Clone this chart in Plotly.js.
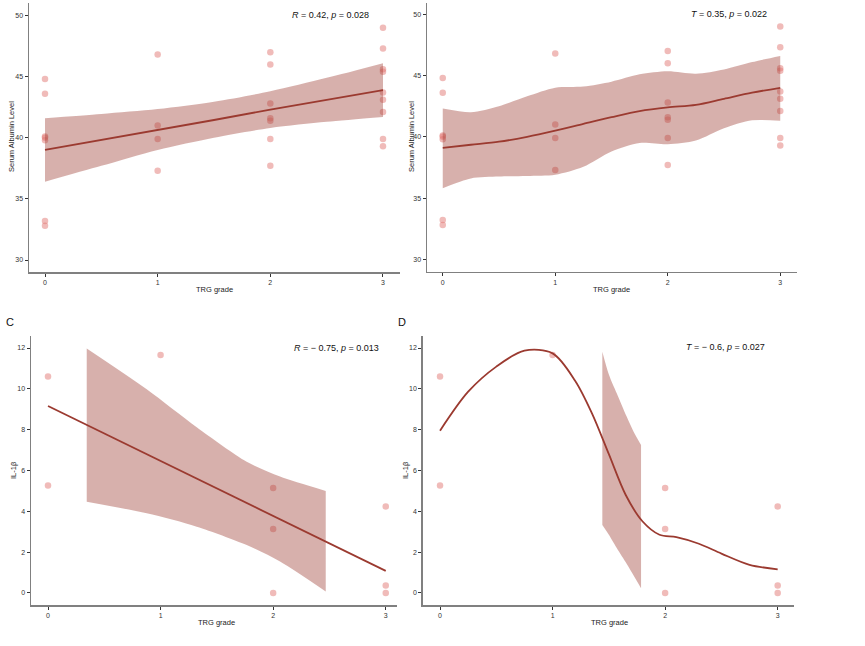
<!DOCTYPE html>
<html>
<head>
<meta charset="utf-8">
<script src="https://cdn.plot.ly/plotly-3.0.1.min.js"></script>
<style>html,body{margin:0;padding:0;background:#fff;}#chart{width:865px;height:646px;}</style>
</head>
<body>
<div id="chart"></div>
<script>
// ---------- data ----------
const trgAlb = [0,0,0,0,0,0,0, 1,1,1,1, 2,2,2,2,2,2,2, 3,3,3,3,3,3,3,3,3];
const albumin = [44.8,43.6,40.1,40.0,39.8,33.2,32.8, 46.8,41.0,39.9,37.3, 47.0,46.0,42.8,41.6,41.4,39.9,37.7, 49.0,47.3,45.6,45.4,43.7,43.1,42.1,39.9,39.3];

const trgIL = [0,0,1,2,2,2,3,3,3];
const il1b = [10.6,5.27,11.66,5.14,3.13,0,4.24,0.36,0];

// Panel A: linear fit and 95% CI
const fitAX = [0,0.5,1,1.5,2,2.5,3];
const fitAY = [39.0,39.8,40.6,41.45,42.3,43.1,43.9];
const ciAUp = [41.6,41.95,42.35,42.95,43.8,44.9,46.1];
const ciALo = [36.4,37.7,39.0,40.0,40.8,41.3,41.7];

// Panel B: smooth fit and CI
const fitBX = [0,0.25,0.5,0.75,1,1.25,1.5,1.75,2,2.25,2.5,2.75,3];
const fitBY = [39.1,39.35,39.6,40.0,40.5,41.05,41.6,42.1,42.4,42.6,43.1,43.6,44.0];
const ciBUp = [42.3,42.0,42.5,43.3,44.0,44.1,44.5,45.1,45.35,45.15,45.5,46.1,46.6];
const ciBLo = [35.8,36.6,36.75,36.8,36.9,37.55,38.8,39.5,39.4,39.7,40.7,41.35,41.3];

// Panel C: linear fit and CI
const fitCX = [0,3];
const fitCY = [9.16,1.08];
const ciCX = [0.344,0.877,1.321,1.765,2.061,2.467];
const ciCUp = [11.98,9.98,8.12,6.43,5.70,5.0];
const ciCLo = [4.47,3.90,3.25,2.35,1.54,0.07];

// Panel D: smooth fit and CI
const fitDX = [0,0.25,0.5,0.75,1,1.2,1.35,1.5,1.65,1.8,1.95,2.1,2.3,2.5,2.75,3];
const fitDY = [7.95,9.86,11.09,11.87,11.74,10.4,8.8,6.8,4.8,3.5,2.85,2.73,2.41,1.93,1.38,1.16];
const ciDX = [1.442,1.5,1.57,1.658,1.72,1.786];
const ciDUp = [11.82,10.7,9.78,8.64,7.9,7.25];
const ciDLo = [3.33,2.85,2.2,1.43,0.85,0.23];

const xTicks = [0,1,2,3];
const albTicks = [30,35,40,45,50];
const ilTicks = [0,2,4,6,8,10,12];

const statA = '<i>R</i> = 0.42, <i>p</i> = 0.028';
const statB = '<i>T</i> = 0.35, <i>p</i> = 0.022';
const statC = '<i>R</i> = − 0.75, <i>p</i> = 0.013';
const statD = '<i>T</i> = − 0.6, <i>p</i> = 0.027';

// ---------- styling ----------
const W = 865, H = 646;
const px = v => v / W;
const py = v => 1 - v / H;
const lineCol = '#9b3a30';
const bandCol = 'rgba(155,58,48,0.4)';
const ptCol = 'rgba(225,120,115,0.5)';
const FONT = 'Liberation Sans, Arial, sans-serif';

function band(xs, up, lo, xa, ya) {
  return [
    {x: xs, y: lo, type: 'scatter', mode: 'lines', line: {width: 0, color: 'rgba(0,0,0,0)', shape: 'spline', smoothing: 0.8},
      hoverinfo: 'skip', xaxis: xa, yaxis: ya},
    {x: xs, y: up, type: 'scatter', mode: 'lines', fill: 'tonexty', fillcolor: bandCol,
      line: {width: 0, color: 'rgba(0,0,0,0)', shape: 'spline', smoothing: 0.8}, hoverinfo: 'skip', xaxis: xa, yaxis: ya}
  ];
}
function pts(xs, ys, xa, ya) {
  return {x: xs, y: ys, type: 'scatter', mode: 'markers',
    marker: {size: 6.5, color: ptCol, line: {width: 0}}, xaxis: xa, yaxis: ya};
}
function fit(xs, ys, xa, ya, smooth) {
  return {x: xs, y: ys, type: 'scatter', mode: 'lines',
    line: {color: lineCol, width: 1.8, shape: smooth ? 'spline' : 'linear', smoothing: 0.9},
    xaxis: xa, yaxis: ya};
}

const data = [].concat(
  [pts(trgAlb, albumin, 'x', 'y')],
  band(fitAX, ciAUp, ciALo, 'x', 'y'),
  [fit(fitAX, fitAY, 'x', 'y', false)],
  [pts(trgAlb, albumin, 'x2', 'y2')],
  band(fitBX, ciBUp, ciBLo, 'x2', 'y2'),
  [fit(fitBX, fitBY, 'x2', 'y2', true)],
  [pts(trgIL, il1b, 'x3', 'y3')],
  band(ciCX, ciCUp, ciCLo, 'x3', 'y3'),
  [fit(fitCX, fitCY, 'x3', 'y3', false)],
  [pts(trgIL, il1b, 'x4', 'y4')],
  band(ciDX, ciDUp, ciDLo, 'x4', 'y4'),
  [fit(fitDX, fitDY, 'x4', 'y4', true)]
);

function xax(d0, d1, r, anchor) {
  return {domain: [px(d0), px(d1)], range: r, anchor: anchor, showgrid: false, zeroline: false,
    showline: true, linecolor: '#808080', linewidth: 1.5, ticks: 'outside', ticklen: 3,
    tickcolor: '#333', tickwidth: 1, tickvals: xTicks, ticktext: xTicks.map(String),
    tickfont: {size: 7, color: '#333', family: FONT}, fixedrange: true};
}
function yax(d0, d1, r, anchor, tv) {
  return {domain: [py(d1), py(d0)], range: r, anchor: anchor, showgrid: false, zeroline: false,
    showline: true, linecolor: '#808080', linewidth: 1.5, ticks: 'outside', ticklen: 3,
    tickcolor: '#333', tickwidth: 1, tickvals: tv, ticktext: tv.map(String),
    tickfont: {size: 7, color: '#333', family: FONT}, fixedrange: true};
}

function ann(text, x, y, opts) {
  return Object.assign({text: text, x: px(x), y: py(y), xref: 'paper', yref: 'paper',
    showarrow: false, xanchor: 'center', yanchor: 'middle',
    font: {size: 7.5, color: '#222', family: FONT}}, opts || {});
}

const statFont = {size: 9, color: '#111', family: FONT};
const annotations = [
  ann(statA, 330, 15, {font: statFont}),
  ann(statB, 728.5, 14, {font: statFont}),
  ann(statC, 336, 348, {font: statFont}),
  ann(statD, 725.5, 347, {font: statFont}),
  ann('TRG grade', 214, 289),
  ann('TRG grade', 611.7, 289),
  ann('TRG grade', 216.7, 622),
  ann('TRG grade', 609, 622),
  ann('Serum Albumin Level', 11, 137, {textangle: -90}),
  ann('Serum Albumin Level', 411, 137, {textangle: -90}),
  ann('IL-1β', 13, 470, {textangle: -90}),
  ann('IL-1β', 405, 470, {textangle: -90}),
  ann('C', 10, 322, {font: {size: 11, color: '#111', family: FONT}}),
  ann('D', 402, 322, {font: {size: 11, color: '#111', family: FONT}})
];

const layout = {
  width: W, height: H, margin: {l: 0, r: 0, t: 0, b: 0},
  paper_bgcolor: '#fff', plot_bgcolor: '#fff', showlegend: false,
  xaxis: xax(29, 400, [-0.142, 3.151], 'y'),
  yaxis: yax(3, 272, [29.02, 51.02], 'x', albTicks),
  xaxis2: xax(427, 797, [-0.14, 3.149], 'y2'),
  yaxis2: yax(3, 271.7, [28.99, 50.92], 'x2', albTicks),
  xaxis3: xax(31, 397, [-0.151, 3.10], 'y3'),
  yaxis3: yax(336, 605, [-0.59, 12.59], 'x3', ilTicks),
  xaxis4: xax(422.7, 794, [-0.154, 3.145], 'y4'),
  yaxis4: yax(336, 605, [-0.59, 12.59], 'x4', ilTicks),
  annotations: annotations
};

Plotly.newPlot('chart', data, layout, {displayModeBar: false, staticPlot: true});
</script>
</body>
</html>
